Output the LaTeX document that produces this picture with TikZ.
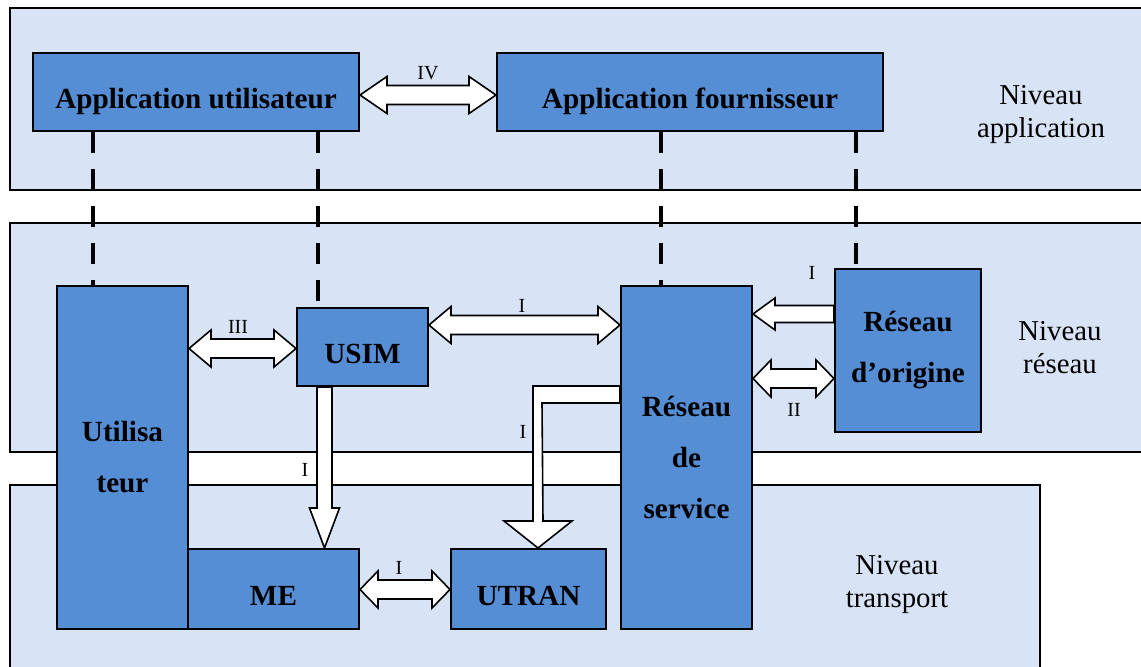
\documentclass[tikz,border=0pt]{standalone}
\usepackage{fontspec}
\setmainfont{Liberation Serif}
\usetikzlibrary{calc}
\definecolor{boxblue}{RGB}{85,142,213}
\definecolor{bandblue}{RGB}{216,228,245}

% hollow double arrow between two named points
\newcommand{\twoway}[3]{%
  \draw[hollow] (#1) -- ++(#3,-18.5) -- ++(0,9) -- ($(#2)+(-#3,-9.5)$) -- ++(0,-9)
    -- (#2) -- ++(-#3,18.5) -- ++(0,-9) -- ($(#1)+(#3,9.5)$) -- ++(0,9) -- cycle;}

\begin{document}
\begin{tikzpicture}[x=0.5pt, y=-0.5pt,
  band/.style={draw, line width=1pt, fill=bandblue},
  block/.style={draw, line width=1pt, fill=boxblue, inner sep=0pt, align=center,
    font=\fontsize{14.6}{25.5}\selectfont\bfseries},
  oneline/.style={text height=16pt, text depth=0pt},
  level/.style={align=center, font=\fontsize{14.4}{16.5}\selectfont},
  lbl/.style={inner sep=0pt, font=\fontsize{10}{12}\selectfont},
  hollow/.style={draw, line width=0.8pt, fill=white, line join=miter},
  link/.style={line width=2pt, dash pattern=on 10.5pt off 8pt}]
  \useasboundingbox (0,0) rectangle (1141,666);
  \clip (0,0) rectangle (1141,666);

  % levels
  \draw[band] (10,8) rectangle (1160,190);
  \draw[band] (10,223) rectangle (1160,452);
  \draw[band] (10,485) rectangle (1040,700);

  \node[block, oneline, minimum width=163pt, minimum height=39pt] (appU) at (196,92) {Application utilisateur};
  \node[block, oneline, minimum width=193pt, minimum height=39pt] (appF) at (690,92) {Application fournisseur};
  \node[block, minimum width=65.5pt, minimum height=171.5pt] (uti) at (122.5,457.5) {Utilisa\\teur};
  \node[block, oneline, minimum width=65.5pt, minimum height=39pt] (usim) at (362.5,347) {USIM};
  \node[block, oneline, minimum width=85.5pt, minimum height=40pt] (me) at (273.5,589) {ME};
  \node[block, oneline, minimum width=77.5pt, minimum height=40pt] (utran) at (528.5,589) {UTRAN};
  \node[block, minimum width=65.5pt, minimum height=171.5pt] (serv) at (686.5,457.5) {Réseau\\de\\service};
  \node[block, minimum width=73pt, minimum height=81.5pt] (orig) at (908,350.5) {Réseau\\d’origine};

  % dashed links between levels
  \draw[link] (appU.south -| 93,0) -- (uti.north -| 93,0);
  \draw[link] (appU.south -| 318,0) -- (usim.north -| 318,0);
  \draw[link] (appF.south -| 661,0) -- (serv.north -| 661,0);
  \draw[link] (appF.south -| 856,0) -- (orig.north -| 856,0);

  % interfaces
  \coordinate (a4) at (appU.east |- 0,95);
  \coordinate (b4) at (appF.west |- 0,95);
  \twoway{a4}{b4}{27}
  \coordinate (a3) at (uti.east |- 0,348.5);
  \coordinate (b3) at (usim.west |- 0,348.5);
  \twoway{a3}{b3}{22}
  \coordinate (a1) at (usim.east |- 0,325);
  \coordinate (b1) at (serv.west |- 0,325);
  \twoway{a1}{b1}{22}
  \coordinate (a2) at (serv.east |- 0,378.5);
  \coordinate (b2) at (orig.west |- 0,378.5);
  \twoway{a2}{b2}{18}
  \coordinate (a5) at (me.east |- 0,589.5);
  \coordinate (b5) at (utran.west |- 0,589.5);
  \twoway{a5}{b5}{18}

  \coordinate (s1) at (serv.east |- 0,314);
  \coordinate (o1) at (orig.west |- 0,314);
  \draw[hollow] (s1) -- ++(22,-16) -- ++(0,7.5) -- ($(o1)+(0,-8.5)$) -- ++(0,17)
    -- ($(s1)+(22,8.5)$) -- ++(0,7.5) -- cycle;

  \coordinate (u1) at (usim.south -| 324.5,0);
  \coordinate (m1) at (me.north -| 324.5,0);
  \draw[hollow] ($(u1)+(-7.5,0)$) -- ($(m1)+(-7.5,-40)$) -- ++(-7.5,0) -- (m1)
    -- ++(15,-40) -- ++(-7.5,0) -- ($(u1)+(7.5,0)$) -- cycle;

  \coordinate (s2) at (serv.west |- 0,386);
  \coordinate (t2) at (utran.north -| 538,0);
  \draw[hollow] (s2) -- (s2 -| 533,0) -- ($(t2)+(-5,-27)$) -- ++(-29,0) -- (t2)
    -- ++(34,-27) -- ++(-29,0) -- ($(s2)+(-78,17)$) -- ($(s2)+(0,17)$) -- cycle;

  \node[lbl] (lIV) at (428,73) {IV};
  \node[lbl] (lIII) at (238,327) {III};
  \node[lbl] (lUS) at (522,306) {I};
  \node[lbl] (lOR) at (812,273) {I};
  \node[lbl] (lII) at (794,410) {II};
  \node[lbl] (lUM) at (305,470) {I};
  \node[lbl] (lSU) at (523,432) {I};
  \node[lbl] (lMU) at (399,568) {I};

  \node[level] (nApp) at (1041,115) {Niveau\\application};
  \node[level] (nNet) at (1060,348) {Niveau\\réseau};
  \node[level] (nTr) at (897,585) {Niveau\\transport};
\end{tikzpicture}
\end{document}
